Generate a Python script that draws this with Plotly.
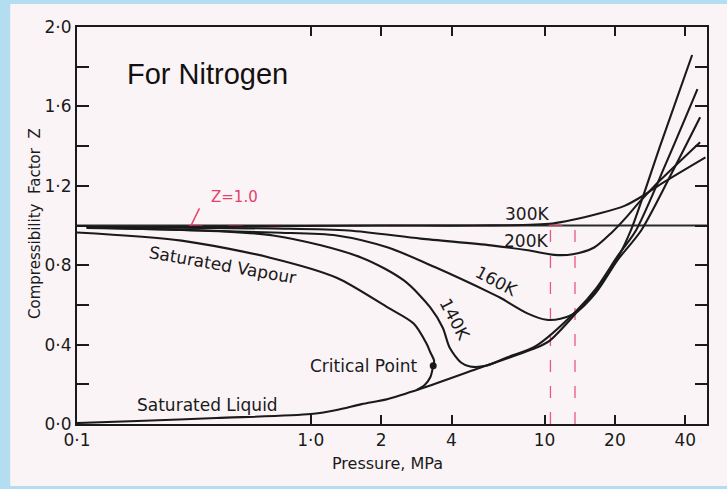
import plotly.graph_objects as go
import numpy as np

# ---------------- data ----------------
# Pressure in MPa, compressibility factor Z
p_300 = [0.11, 0.5, 2.0, 5.0, 10.8, 17.1, 22.1, 26.4, 30.6, 48.8]
z_300 = [0.99, 0.995, 1.0, 1.0, 1.01, 1.06, 1.10, 1.15, 1.20, 1.343]

p_200 = [0.11, 0.69, 1.45, 2.95, 5.9, 8.49, 11.0, 13.2, 16.3, 19.4, 22.7, 25.1, 29.4, 46.3]
z_200 = [0.993, 0.985, 0.975, 0.934, 0.90, 0.875, 0.852, 0.855, 0.889, 0.965, 1.05, 1.11, 1.197, 1.419]

p_160 = [0.11, 0.69, 1.29, 2.14, 3.43, 5.96, 6.47, 8.49, 10.2, 11.7, 13.6, 16.6, 20.6, 25.9, 34.8, 46.3]
z_160 = [0.99, 0.965, 0.95, 0.889, 0.788, 0.657, 0.636, 0.556, 0.525, 0.530, 0.561, 0.662, 0.828, 0.975, 1.258, 1.545]

p_140 = [0.11, 0.69, 1.65, 2.51, 3.25, 3.67, 3.93, 4.39, 4.8, 5.6, 7.0, 9.2, 13.7, 16.6, 20.6, 24.6, 33.5, 45.1]
z_140 = [0.988, 0.95, 0.838, 0.722, 0.586, 0.485, 0.384, 0.31, 0.29, 0.293, 0.338, 0.394, 0.571, 0.682, 0.848, 0.975, 1.328, 1.687]

# saturated vapour dome (down through the critical point to the liquid line)
p_vap = [0.1, 0.28, 0.67, 1.29, 2.14, 2.76, 3.13, 3.25, 3.37, 3.34, 3.25, 3.07, 2.84]
z_vap = [0.965, 0.924, 0.838, 0.737, 0.586, 0.505, 0.404, 0.36, 0.318, 0.293, 0.237, 0.197, 0.172]

# saturated liquid line continuing to high pressure
p_liq = [0.1, 0.181, 0.395, 1.0, 1.29, 1.65, 2.14, 2.95, 5.3, 9.2, 10.5, 13.7, 16.6, 20.6, 23.4, 31.5, 42.8]
z_liq = [0.005, 0.015, 0.03, 0.05, 0.071, 0.10, 0.126, 0.177, 0.283, 0.384, 0.419, 0.561, 0.672, 0.838, 0.975, 1.414, 1.859]

critical_p = [3.34]
critical_z = [0.293]

z_ref_p = [0.1, 49.5]
z_ref_z = [1.0, 1.0]

# hand-drawn red marks
red_vertical_p = [10.6, 13.5]
red_h_p = [0.3, 13.5]
red_tick_p = [0.303, 0.334]
red_tick_z = [0.985, 1.086]

x_tickvals = [0.1, 1, 2, 4, 10, 20, 40]
x_ticktext = ["0·1", "1·0", "2", "4", "10", "20", "40"]
y_tickvals = [0.0, 0.2, 0.4, 0.6, 0.8, 1.0, 1.2, 1.4, 1.6, 1.8, 2.0]
y_ticktext = ["0·0", "", "0·4", "", "0·8", "", "1·2", "", "1·6", "", "2·0"]

# ---------------- figure ----------------
INK = "#1a1a1a"
RED = "#e6406a"
SHEET = "#fbf4f6"
BLUE = "#b3ddf0"
LBL = "DejaVu Sans"

fig = go.Figure()

def curve(p, z, name, color=INK, width=2.1, dash=None, shape="spline", opacity=1.0):
    fig.add_trace(go.Scatter(
        x=p, y=z, mode="lines", name=name, opacity=opacity,
        line=dict(color=color, width=width, dash=dash, shape=shape, smoothing=0.8),
        hoverinfo="skip"))

curve(z_ref_p, z_ref_z, "Z = 1", color="#2a2a2a", width=1.8, shape="linear")
curve(red_h_p, [1.0, 1.0], "red Z=1", color=RED, width=1.6, dash="14px,26px", shape="linear", opacity=0.8)
for rp in red_vertical_p:
    curve([rp, rp], [0.0, 1.02], "red mark", color=RED, width=1.3, dash="12px,14px", shape="linear", opacity=0.85)
curve(red_tick_p, red_tick_z, "red tick", color=RED, width=1.5, shape="linear")

curve(p_300, z_300, "300K")
curve(p_200, z_200, "200K")
curve(p_160, z_160, "160K")
curve(p_140, z_140, "140K")
curve(p_vap, z_vap, "Saturated Vapour")
curve(p_liq, z_liq, "Saturated Liquid")

fig.add_trace(go.Scatter(x=critical_p, y=critical_z, mode="markers",
                         marker=dict(color=INK, size=7), hoverinfo="skip",
                         name="Critical Point"))

annotations = []

def lab(text, p, z, angle=0, size=17, xanchor="center", xshift=0, yshift=0, color=INK, family=LBL):
    annotations.append(dict(text=text, x=np.log10(p), y=z, xref="x", yref="y",
                            showarrow=False, textangle=angle, xanchor=xanchor,
                            xshift=xshift, yshift=yshift,
                            font=dict(family=family, size=size, color=color)))

lab("300K", 8.4, 1.058)
lab("200K", 8.3, 0.92)
lab("160K", 5.96, 0.718, angle=28, xshift=4)
lab("140K", 3.78, 0.53, angle=62, xshift=9)
lab("Saturated Vapour", 0.42, 0.80, angle=10)
lab("Saturated Liquid", 0.36, 0.094)
annotations.append(dict(text="Critical Point", x=np.log10(critical_p[0]), y=critical_z[0],
                        xref="x", yref="y", showarrow=False, xanchor="right", xshift=-14,
                        font=dict(family=LBL, size=17, color=INK)))
lab("Z=1.0", 0.47, 1.145, size=15, color=RED, family="DejaVu Sans")

annotations.append(dict(text="For Nitrogen", x=0.076, y=0.881, xref="paper", yref="paper",
                        xanchor="left", yanchor="middle", showarrow=False,
                        font=dict(family="Liberation Sans", size=29, color="#111111")))
annotations.append(dict(text="Compressibility  Factor  Z", x=-0.085, y=0.505,
                        xref="paper", yref="paper", textangle=-90, showarrow=False,
                        font=dict(family=LBL, size=15, color=INK)))
annotations.append(dict(text="Pressure, MPa", x=0.493, y=-0.10, xref="paper", yref="paper",
                        showarrow=False, yanchor="middle",
                        font=dict(family=LBL, size=16, color=INK)))

fig.update_layout(
    width=727, height=489,
    margin=dict(l=77, r=20, t=27, b=65),
    paper_bgcolor=BLUE,
    plot_bgcolor=SHEET,
    showlegend=False,
    hovermode=False,
    annotations=annotations,
    shapes=[dict(type="rect", xref="paper", yref="paper", x0=-0.106, x1=1.04,
                 y0=-0.156, y1=1.058, fillcolor=SHEET, line=dict(width=0), layer="below")],
    xaxis=dict(type="log", range=[-1, 1.695], tickvals=x_tickvals, ticktext=x_ticktext,
               ticks="inside", ticklen=9, tickwidth=2, tickcolor=INK,
               showline=True, linewidth=2, linecolor=INK, mirror="ticks",
               showgrid=False, zeroline=False,
               tickfont=dict(family=LBL, size=17, color=INK)),
    yaxis=dict(range=[0, 2.0], tickvals=y_tickvals, ticktext=y_ticktext,
               ticks="inside", ticklen=12, tickwidth=2, tickcolor=INK,
               showline=True, linewidth=2, linecolor=INK, mirror="ticks",
               showgrid=False, zeroline=False,
               tickfont=dict(family=LBL, size=17, color=INK)),
)

fig.write_html("out.html")
